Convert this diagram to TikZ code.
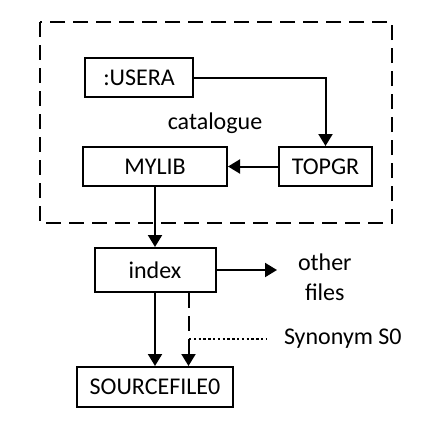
\documentclass[tikz,border=0pt]{standalone}
\usepackage{fontspec}
\setmainfont{Carlito}
\usetikzlibrary{arrows.meta, positioning}
\tikzset{
  file/.style={draw, line width=1pt, inner sep=0pt, minimum height=19.5pt},
  catframe/.style={line width=1pt, dash pattern=on 7.5pt off 4pt},
  synlink/.style={line width=0.6pt, dash pattern=on 1.2pt off 1.2pt},
}

\begin{document}
\begin{tikzpicture}[>={Triangle[length=6pt, width=7pt]}, x=0.5pt, y=-0.5pt, line width=1pt, node distance=3cm,
  every node/.style={font=\fontsize{12}{15}\selectfont}]
\useasboundingbox (0,0) rectangle (439,429);
\draw[catframe] (40,22) rectangle (392,223);
\node[file, minimum width=54pt] (usera) at (139,77.5) {:USERA};
\node[file, minimum width=72pt] (mylib) at (155,166.5) {MYLIB};
\node[file, minimum width=46.5pt, right=25pt of mylib] (topgr) {TOPGR};
\node (cat) at (215,123) {catalogue};
\node[file, minimum width=60.5pt, minimum height=22pt, below=30pt of mylib] (index) {index};
\node[file, minimum width=78pt, minimum height=20pt, below=36.5pt of index] (src) {SOURCEFILE0};
\node[align=center, inner xsep=10pt, anchor=west] (other) at (277,277) {other\\files};
\node[inner xsep=8pt, anchor=west] (syn) at (267,339) {Synonym S0};
\coordinate (synpt) at (189,339);
\draw [->] (usera) -| (topgr);
\draw [->] (topgr) -- (mylib);
\draw [->] (mylib) -- (index);
\draw [->] (index.east) -- (index.east -| other.west);
\draw [->] (index) -- (src);
\draw [->, catframe] ([xshift=16.75pt]index.south) -- ([xshift=16.75pt]src.north);
\draw [synlink] (synpt) -- (syn.west);
\end{tikzpicture}
\end{document}
